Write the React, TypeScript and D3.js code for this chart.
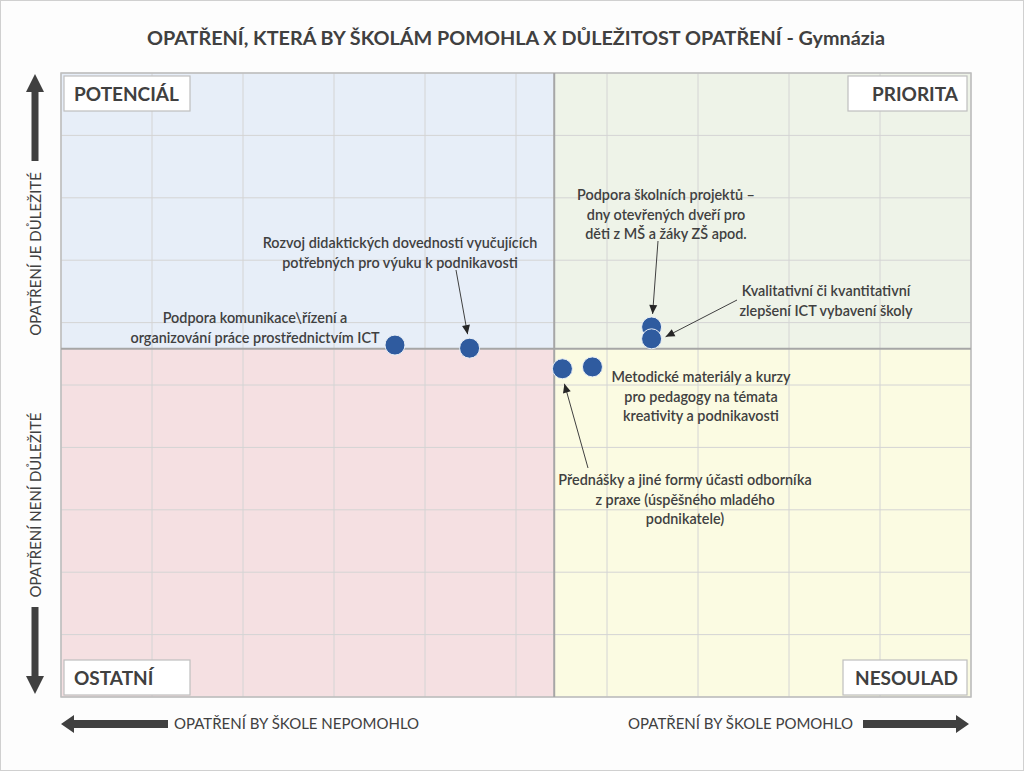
import React from "react";
import * as d3 from "d3";

// ---------- data ----------
const measures = [
  "Podpora komunikace\\řízení a organizování práce prostřednictvím ICT",
  "Rozvoj didaktických dovedností vyučujících potřebných pro výuku k podnikavosti",
  "Podpora školních projektů – dny otevřených dveří pro děti z MŠ a žáky ZŠ apod.",
  "Kvalitativní či kvantitativní zlepšení ICT vybavení školy",
  "Metodické materiály a kurzy pro pedagogy na témata kreativity a podnikavosti",
  "Přednášky a jiné formy účasti odborníka z praxe (úspěšného mladého podnikatele)",
];
const helpValues = [3.67, 4.49, 6.49, 6.49, 5.84, 5.51];
const importanceValues = [5.64, 5.59, 5.93, 5.74, 5.29, 5.26];
const xCross = 5.42;
const yCross = 5.58;
const gridTicks = [0, 1, 2, 3, 4, 5, 6, 7, 8, 9, 10];

const labelLines = [
  ["Podpora komunikace\\řízení a", "organizování práce prostřednictvím ICT"],
  ["Rozvoj didaktických dovedností vyučujících", "potřebných pro výuku k podnikavosti"],
  ["Podpora školních projektů –", "dny otevřených dveří pro", "děti z MŠ a žáky ZŠ apod."],
  ["Kvalitativní či kvantitativní", "zlepšení ICT vybavení školy"],
  ["Metodické materiály a kurzy", "pro pedagogy na témata", "kreativity a podnikavosti"],
  ["Přednášky a jiné formy účasti odborníka", "z praxe (úspěšného mladého", "podnikatele)"],
];

const title = "OPATŘENÍ, KTERÁ BY ŠKOLÁM POMOHLA X DŮLEŽITOST OPATŘENÍ - Gymnázia";
const quadrantNames = ["POTENCIÁL", "PRIORITA", "OSTATNÍ", "NESOULAD"];
const axisTexts = [
  "OPATŘENÍ JE DŮLEŽITÉ",
  "OPATŘENÍ NENÍ DŮLEŽITÉ",
  "OPATŘENÍ BY ŠKOLE NEPOMOHLO",
  "OPATŘENÍ BY ŠKOLE POMOHLO",
];

// ---------- layout (pixels, not data) ----------
const W = 1024;
const H = 771;
const L = 61, R = 971, T = 73, B = 697;
const labelLayout = [
  { cx: 255, cy: 318, arrow: null as null | { x: number; y: number; dx: number; dy: number } },
  { cx: 400, cy: 243, arrow: { x: 456, y: 270, dx: -2, dy: -14 } },
  { cx: 666, cy: 195, arrow: { x: 658, y: 241, dx: 1, dy: -13 } },
  { cx: 826, cy: 291, arrow: { x: 737, y: 300, dx: 14, dy: -2 } },
  { cx: 701, cy: 377, arrow: null },
  { cx: 685, cy: 480, arrow: { x: 588, y: 468, dx: 2, dy: 15 } },
];

const FONT = "Lato, 'Open Sans', sans-serif";
const TXT = "#404040";

export default function App() {
  const x = d3.scaleLinear().domain([0, 10]).range([L, R]);
  const y = d3.scaleLinear().domain([0, 10]).range([B, T]);
  const cx = x(xCross);
  const cy = y(yCross);

  const quads = [
    { x0: L, y0: T, x1: cx, y1: cy, fill: "#e7eef8" },
    { x0: cx, y0: T, x1: R, y1: cy, fill: "#eef3e8" },
    { x0: L, y0: cy, x1: cx, y1: B, fill: "#f5e0e2" },
    { x0: cx, y0: cy, x1: R, y1: B, fill: "#fbfbe2" },
  ];

  const boxes = [
    { x: 64, y: 76, w: 126, h: 35, anchor: "start", tx: 74 },
    { x: 848, y: 76, w: 119, h: 35, anchor: "end", tx: 958 },
    { x: 64, y: 660, w: 126, h: 35, anchor: "start", tx: 74 },
    { x: 843, y: 660, w: 124, h: 35, anchor: "end", tx: 958 },
  ];

  const arrowHead = (x1: number, y1: number, x2: number, y2: number, size = 9, half = 4) => {
    const a = Math.atan2(y2 - y1, x2 - x1);
    const bx = x2 - size * Math.cos(a);
    const by = y2 - size * Math.sin(a);
    const px = -Math.sin(a) * half;
    const py = Math.cos(a) * half;
    return `${x2},${y2} ${bx + px},${by + py} ${bx - px},${by - py}`;
  };

  return (
    <svg
      width={W}
      height={H}
      style={{ position: "absolute", left: 0, top: 0, background: "#fdfdfd" }}
      fontFamily={FONT}
    >
      <rect x={0.5} y={0.5} width={W - 1} height={H - 1} fill="#fdfdfd" stroke="#d0d0d0" />
      <text x={516} y={45} textAnchor="middle" fontSize={19.8} fontWeight="bold" fill={TXT}>
        {title}
      </text>

      {quads.map((q, i) => (
        <rect key={i} x={q.x0} y={q.y0} width={q.x1 - q.x0} height={q.y1 - q.y0} fill={q.fill} />
      ))}

      {gridTicks.map((t) => (
        <line key={"gx" + t} x1={x(t)} x2={x(t)} y1={T} y2={B} stroke="#d4d4d4" strokeWidth={1} />
      ))}
      {gridTicks.map((t) => (
        <line key={"gy" + t} x1={L} x2={R} y1={y(t)} y2={y(t)} stroke="#d4d4d4" strokeWidth={1} />
      ))}
      <rect x={L} y={T} width={R - L} height={B - T} fill="none" stroke="#bdbdbd" strokeWidth={1.5} />
      <line x1={cx} x2={cx} y1={T} y2={B} stroke="#a6a6a6" strokeWidth={2} />
      <line x1={L} x2={R} y1={cy} y2={cy} stroke="#a6a6a6" strokeWidth={2} />

      {boxes.map((b, i) => (
        <g key={"b" + i}>
          <rect x={b.x} y={b.y} width={b.w} height={b.h} fill="#ffffff" stroke="#bfbfbf" strokeWidth={1.2} />
          <text
            x={b.tx}
            y={b.y + b.h / 2 + 7}
            textAnchor={b.anchor as any}
            fontSize={19}
            fontWeight="bold"
            fill={TXT}
          >
            {quadrantNames[i]}
          </text>
        </g>
      ))}

      {labelLayout.map((l, i) => {
        if (!l.arrow) return null;
        const ex = x(helpValues[i]) + l.arrow.dx;
        const ey = y(importanceValues[i]) + l.arrow.dy;
        return (
          <g key={"ar" + i}>
            <line x1={l.arrow.x} y1={l.arrow.y} x2={ex} y2={ey} stroke="#404040" strokeWidth={1} />
            <polygon points={arrowHead(l.arrow.x, l.arrow.y, ex, ey)} fill="#262626" />
          </g>
        );
      })}

      {measures.map((m, i) => (
        <circle
          key={"p" + i}
          cx={x(helpValues[i])}
          cy={y(importanceValues[i])}
          r={10}
          fill="#2f5b9f"
          stroke="#e8eef6"
          strokeWidth={1}
        >
          <title>{m}</title>
        </circle>
      ))}

      {labelLayout.map((l, i) => (
        <text key={"l" + i} textAnchor="middle" fontSize={14.4} fontWeight={600} fill={TXT}>
          {labelLines[i].map((line, j) => (
            <tspan key={j} x={l.cx} y={l.cy + j * 19.5 + 5}>
              {line}
            </tspan>
          ))}
        </text>
      ))}

      <polygon points="35,74 44,92 38.5,92 38.5,161 31.5,161 31.5,92 26,92" fill="#404040" />
      <polygon points="35,694 44,676 38.5,676 38.5,607 31.5,607 31.5,676 26,676" fill="#404040" />
      <polygon points="61,724 74,715 74,720 168,720 168,728 74,728 74,733" fill="#404040" />
      <polygon points="969,724 956,715 956,720 863,720 863,728 956,728 956,733" fill="#404040" />

      <text transform="translate(41,254) rotate(-90)" textAnchor="middle" fontSize={15} fill={TXT}>
        {axisTexts[0]}
      </text>
      <text transform="translate(41,505) rotate(-90)" textAnchor="middle" fontSize={15} fill={TXT}>
        {axisTexts[1]}
      </text>
      <text x={174} y={729} fontSize={15} fill={TXT}>
        {axisTexts[2]}
      </text>
      <text x={853} y={729} textAnchor="end" fontSize={15} fill={TXT}>
        {axisTexts[3]}
      </text>
    </svg>
  );
}
